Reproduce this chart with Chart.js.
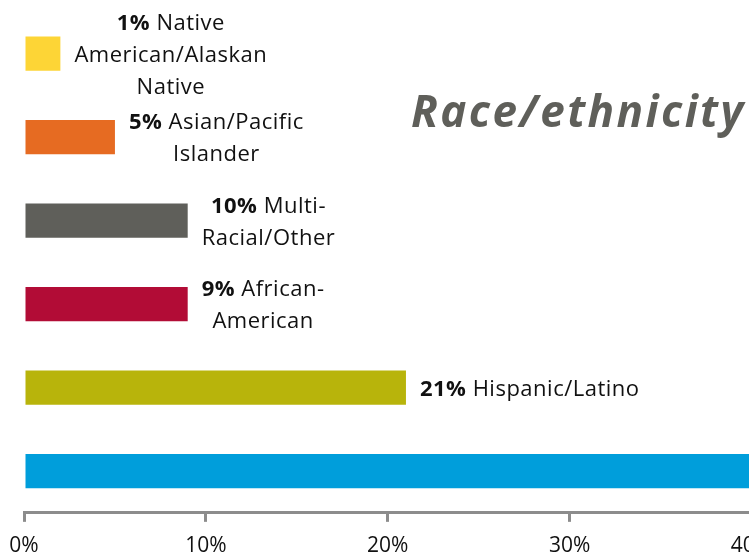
<!DOCTYPE html>
<html lang="en">
<head>
    <meta charset="UTF-8">
    <title>Race/ethnicity</title>
    <script src="https://cdn.jsdelivr.net/npm/chart.js"></script>
    <style>
        body {
            margin: 0;
            background: #ffffff;
            overflow: hidden;
        }
        #wrap {
            position: relative;
            width: 749px;
            height: 557px;
            overflow: hidden;
        }
        #title {
            position: absolute;
            left: 411px;
            top: 80px;
            font-family: 'Open Sans', sans-serif;
            font-weight: bold;
            font-style: italic;
            font-size: 44px;
            letter-spacing: 2.4px;
            color: #5f5f5a;
            white-space: nowrap;
        }
        canvas { position: absolute; left: 0; top: 0; }
    </style>
</head>
<body>
<div id="wrap">
    <canvas id="raceChart" width="1140" height="573"></canvas>
    <div id="title">Race/ethnicity</div>
</div>
<script>
    // categories, top to bottom
    const categories = ['Native American/Alaskan Native', 'Asian/Pacific Islander', 'Multi-Racial/Other',
        'African-American', 'Hispanic/Latino', 'White'];
    // bar lengths as drawn (percent)
    const barValues = [2, 5, 9, 9, 21, 54];
    // printed percentages
    const pctLabels = ['1%', '5%', '10%', '9%', '21%', '54%'];
    // label text after the percentage, one entry per line
    const nameLines = [
        ['Native', 'American/Alaskan', 'Native'],
        ['Asian/Pacific', 'Islander'],
        ['Multi-', 'Racial/Other'],
        ['African-', 'American'],
        ['Hispanic/Latino'],
        ['White']
    ];
    const xTicks = [0, 10, 20, 30, 40, 50, 60];

    const barColors = ['#fdd536', '#e66b22', '#5f5f5a', '#b20c36', '#b8b40b', '#009edb'];
    const FONT = "'Open Sans', sans-serif";

    // draws "NN% Name" labels to the right of each bar
    const barLabels = {
        id: 'barLabels',
        afterDatasetsDraw(chart) {
            const ctx = chart.ctx;
            const meta = chart.getDatasetMeta(0);
            const lineH = 32;
            ctx.save();
            ctx.textBaseline = 'middle';
            ctx.fillStyle = '#111111';
            ctx.letterSpacing = '0.5px';
            meta.data.forEach((bar, i) => {
                const lines = nameLines[i];
                const bold = 'bold 22px ' + FONT;
                const reg = '22px ' + FONT;
                ctx.font = bold;
                const pctW = ctx.measureText(pctLabels[i] + ' ').width;
                ctx.font = reg;
                const widths = lines.map((l, k) => ctx.measureText(l).width + (k === 0 ? pctW : 0));
                const blockW = Math.max(...widths);
                const left = bar.x + 14;
                const cx = left + blockW / 2;
                const y0 = bar.y + 2 - (lines.length - 1) * lineH / 2;
                lines.forEach((l, k) => {
                    const y = y0 + k * lineH;
                    let x = lines.length > 1 ? cx - widths[k] / 2 : left;
                    ctx.textAlign = 'left';
                    if (k === 0) {
                        ctx.font = bold;
                        ctx.fillText(pctLabels[i], x, y);
                        x += pctW;
                    }
                    ctx.font = reg;
                    ctx.fillText(l, x, y);
                });
            });
            ctx.letterSpacing = '0px';
            ctx.restore();
        }
    };

    const ctx = document.getElementById('raceChart').getContext('2d');
    new Chart(ctx, {
        type: 'bar',
        data: {
            labels: categories,
            datasets: [{
                data: barValues,
                backgroundColor: barColors,
                borderWidth: 0,
                barPercentage: 0.41,
                categoryPercentage: 1.0
            }]
        },
        options: {
            indexAxis: 'y',
            responsive: false,
            animation: false,
            layout: { padding: { left: 24, top: 12, right: 0, bottom: 2 } },
            plugins: {
                legend: { display: false },
                tooltip: { enabled: false }
            },
            scales: {
                x: {
                    min: xTicks[0],
                    max: xTicks[xTicks.length - 1],
                    afterBuildTicks(scale) {
                        scale.ticks = xTicks.map(v => ({ value: v }));
                    },
                    ticks: {
                        callback: v => v + '%',
                        color: '#111111',
                        font: { family: FONT, size: 21, lineHeight: 1.96 },
                        padding: 4,
                        maxRotation: 0
                    },
                    grid: {
                        drawOnChartArea: false,
                        drawTicks: true,
                        tickLength: 9,
                        color: '#8c8c8c',
                        lineWidth: 3
                    },
                    border: { display: true, color: '#8c8c8c', width: 3 }
                },
                y: { display: false }
            }
        },
        plugins: [barLabels]
    });
</script>
</body>
</html>
